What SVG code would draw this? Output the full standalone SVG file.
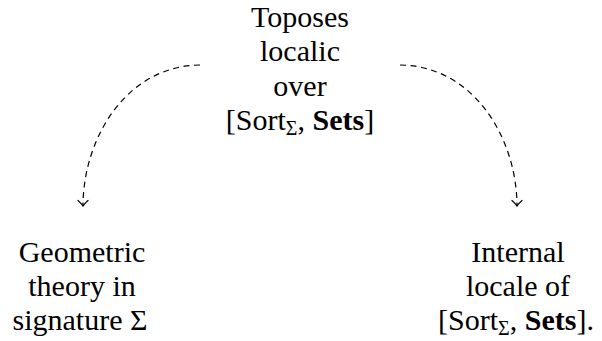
<svg xmlns="http://www.w3.org/2000/svg" width="602" height="341" viewBox="0 0 602 341">
<style>
text{font-size:30px;fill:#000;text-anchor:middle}
.sub{font-size:20px}
.b{font-weight:bold}
.edge{fill:none;stroke:#000;stroke-width:1.2;stroke-dasharray:6 4.5}
</style>
<defs>
<marker id="to" markerUnits="userSpaceOnUse" markerWidth="14" markerHeight="14" refX="0" refY="0" viewBox="-7 -7 14 14" orient="auto" overflow="visible">
<path d="M-5.5,-5 Q-1.5,-0.8 0,0 Q-1.5,0.8 -5.5,5" fill="none" stroke="#000" stroke-width="1.2" stroke-linecap="round"/>
</marker>
</defs>
<rect width="602" height="341" fill="#fff"/>
<g id="top" font-family="'Liberation Serif', 'DejaVu Serif', serif">
<text x="300" y="27">Toposes</text>
<text x="300" y="61">localic</text>
<text x="300" y="96">over</text>
<text x="300" y="130">[Sort<tspan class="sub" dy="5">Σ</tspan><tspan dy="-5">, </tspan><tspan class="b">Sets</tspan>]</text>
</g>
<g id="left" font-family="'Liberation Serif', 'DejaVu Serif', serif">
<text x="82" y="262">Geometric</text>
<text x="82" y="296">theory in</text>
<text x="80" y="330">signature Σ</text>
</g>
<g id="right" font-family="'Liberation Serif', 'DejaVu Serif', serif">
<text x="518" y="262">Internal</text>
<text x="518" y="296">locale of</text>
<text x="516" y="330">[Sort<tspan class="sub" dy="5">Σ</tspan><tspan dy="-5">, </tspan><tspan class="b">Sets</tspan>].</text>
</g>
<g id="connectors">
<path class="edge" d="M200,65 C125,66 83,140 83,206" marker-end="url(#to)"/>
<path class="edge" d="M400,65 C475,66 517,140 517,206" marker-end="url(#to)"/>
</g>
</svg>
